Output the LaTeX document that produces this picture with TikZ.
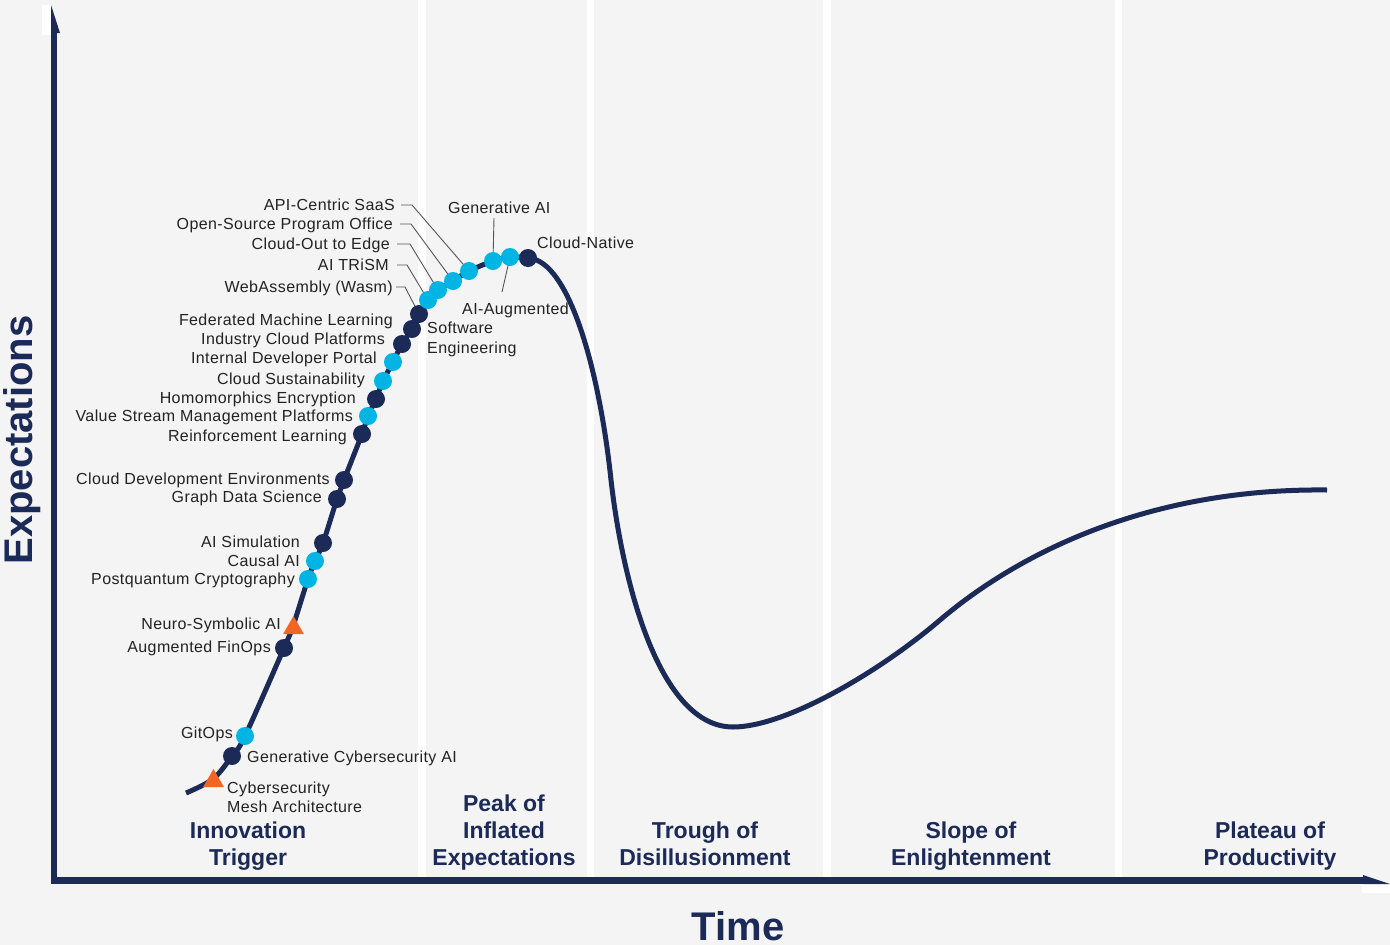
\documentclass[tikz,border=0pt]{standalone}
\usepackage{fontspec}
\setmainfont{Liberation Sans}
\newfontfamily\lblfont[LetterSpace=2.5]{Liberation Sans}
\usetikzlibrary{shapes.geometric}
\definecolor{navy}{HTML}{1B2A57}
\definecolor{cyanc}{HTML}{00B4E4}
\definecolor{orangec}{HTML}{F26522}
\definecolor{bggray}{HTML}{F4F4F4}
\definecolor{txt}{HTML}{222222}
\definecolor{leadc}{HTML}{555555}
\begin{document}
\begin{tikzpicture}[x=1pt,y=-1pt,
  dark/.style={circle,fill=navy,minimum size=18pt,inner sep=0pt},
  light/.style={circle,fill=cyanc,minimum size=18pt,inner sep=0pt},
  tri/.style={regular polygon,regular polygon sides=3,fill=orangec,minimum size=24pt,inner sep=0pt},
  lbl/.style={font=\lblfont\fontsize{16}{19.5}\selectfont,text=txt,inner sep=0pt,text height=11.5pt,text depth=0pt},
  lblL/.style={lbl,anchor=east},
  lblR/.style={lbl,anchor=west},
  mlbl/.style={font=\lblfont\fontsize{16}{19.5}\selectfont,text=txt,inner sep=0pt,align=left,anchor=north west},
  phase/.style={font=\fontsize{23}{27}\selectfont\bfseries,text=navy,align=center,anchor=north,inner sep=0pt},
  axislbl/.style={font=\fontsize{40}{40}\selectfont\bfseries,text=navy,inner sep=0pt},
  leader/.style={draw=leadc,line width=0.9pt},
  hype/.style={draw=navy,line width=5pt}]
\useasboundingbox (0,0) rectangle (1390,945);
% background and phase separators
\fill[bggray] (0,0) rectangle (1390,945);
\foreach \a/\b in {418/426,587/594,823/831,1115/1122}
  \fill[white] (\a,0) rectangle (\b,877);
% axes
\fill[white] (42,5) rectangle (51,35);
\fill[white] (1362,884) rectangle (1390,893);
\fill[navy] (51,884) rectangle (57,30);
\fill[navy] (51,5) -- (60,33) -- (51,33) -- cycle;
\fill[navy] (51,877) rectangle (1366,884);
\fill[navy] (1363,875) -- (1390,884) -- (1363,884) -- cycle;
% hype curve
\draw[hype] plot[smooth,tension=0.55] coordinates {
 (186,793) (213,779) (232,756) (245,736) (284,648) (293,626) (308,579)
 (315,561) (323,543) (337,499) (344,480) (362,434) (368,416) (376,399)
 (383,381) (393,362) (402,344) (412,329) (419,314) (428,300) (438,290)
 (453,281) (469,271) (493,261) (510,257) (528,258)}
 .. controls (570,260) and (600,375) .. (611,480)
 .. controls (623,585) and (660,727) .. (733,727)
 .. controls (785,727) and (878,673) .. (940,620)
 .. controls (1020,552) and (1150,488) .. (1327,490);
% leader free ends
\coordinate (apiA) at (401,205);  \coordinate (apiB) at (412,205);
\coordinate (ossA) at (400,224);  \coordinate (ossB) at (411,224);
\coordinate (coeA) at (397,244);  \coordinate (coeB) at (410,244);
\coordinate (trsA) at (397,265);  \coordinate (trsB) at (407,265);
\coordinate (wasA) at (396,287);  \coordinate (wasB) at (405,287);
\coordinate (genE) at (494,218);
\coordinate (aseE) at (502,292);
% dots (positions only, drawn after leaders)
\path (469,271) coordinate (api) (453,281) coordinate (oss) (438,290) coordinate (coe)
      (428,300) coordinate (trs) (419,314) coordinate (was) (493,261) coordinate (gen)
      (510,257) coordinate (ase);
\draw[leader] (apiA) -- (apiB) -- (api);
\draw[leader] (ossA) -- (ossB) -- (oss);
\draw[leader] (coeA) -- (coeB) -- (coe);
\draw[leader] (trsA) -- (trsB) -- (trs);
\draw[leader] (wasA) -- (wasB) -- (was);
\draw[leader] (gen) -- (genE);
\draw[leader] (ase) -- (aseE);
% markers
\node[tri]   (csma) at (213.5,781) {};
\node[dark]  (gcai) at (232,756) {};
\node[light] (gitops) at (245,736) {};
\node[dark]  (afin) at (284,648) {};
\node[tri]   (nsai) at (293.5,628) {};
\node[light] (pqc) at (308,579) {};
\node[light] (cai) at (315,561) {};
\node[dark]  (aisim) at (323,543) {};
\node[dark]  (gds) at (337,499) {};
\node[dark]  (cde) at (344,480) {};
\node[dark]  (rl) at (362,434) {};
\node[light] (vsm) at (368,416) {};
\node[dark]  (he) at (376,399) {};
\node[light] (cs) at (383,381) {};
\node[light] (idp) at (393,362) {};
\node[dark]  (icp) at (402,344) {};
\node[dark]  (fml) at (412,329) {};
\node[dark]  (wasm) at (was) {};
\node[light] (trism) at (trs) {};
\node[light] (cloe) at (coe) {};
\node[light] (ospo) at (oss) {};
\node[light] (apis) at (api) {};
\node[light] (genai) at (gen) {};
\node[light] (aiase) at (ase) {};
\node[dark]  (cn) at (528,258) {};
% labels
\node[lblL] (tApi) at (395,205) {API-Centric SaaS};
\node[lblL] (tOss) at (393,224) {Open-Source Program Office};
\node[lblL] (tCoe) at (390,244) {Cloud-Out to Edge};
\node[lblL] (tTrs) at (389,265) {AI TRiSM};
\node[lblL] (tWas) at (393,287) {WebAssembly (Wasm)};
\node[lblR] (tGen) at (448,208) {Generative AI};
\node[lblR] (tCn) at (537,243) {Cloud-Native};
\node[mlbl] (tAse) at (427,302.5) {\hspace*{35pt}AI-Augmented\\Software\\Engineering};
\node[lblL] (tFml) at (393,320) {Federated Machine Learning};
\node[lblL] (tIcp) at (385,339) {Industry Cloud Platforms};
\node[lblL] (tIdp) at (377,358) {Internal Developer Portal};
\node[lblL] (tCs) at (365,379) {Cloud Sustainability};
\node[lblL] (tHe) at (356,398) {Homomorphics Encryption};
\node[lblL] (tVsm) at (353,416) {Value Stream Management Platforms};
\node[lblL] (tRl) at (347,436) {Reinforcement Learning};
\node[lblL] (tCde) at (330,479) {Cloud Development Environments};
\node[lblL] (tGds) at (322,497) {Graph Data Science};
\node[lblL] (tAis) at (300,542) {AI Simulation};
\node[lblL] (tCai) at (300,561) {Causal AI};
\node[lblL] (tPqc) at (295,579) {Postquantum Cryptography};
\node[lblL] (tNs) at (281,624) {Neuro-Symbolic AI};
\node[lblL] (tAf) at (271,647) {Augmented FinOps};
\node[lblL] (tGit) at (233,733) {GitOps};
\node[lblR] (tGc) at (247,757) {Generative Cybersecurity AI};
\node[mlbl] (tCsma) at (227,781.5) {Cybersecurity\\Mesh Architecture};
% phases
\node[phase] (p1) at (248,822) {Innovation\\Trigger};
\node[phase] (p2) at (504,795) {Peak of\\Inflated\\Expectations};
\node[phase] (p3) at (705,822) {Trough of\\Disillusionment};
\node[phase] (p4) at (971,822) {Slope of\\Enlightenment};
\node[phase] (p5) at (1270,822) {Plateau of\\Productivity};
% axis titles
\node[axislbl,rotate=90,anchor=base] (ylab) at (32,440) {Expectations};
\node[axislbl] (xlab) at (738,926) {Time};
\end{tikzpicture}
\end{document}
